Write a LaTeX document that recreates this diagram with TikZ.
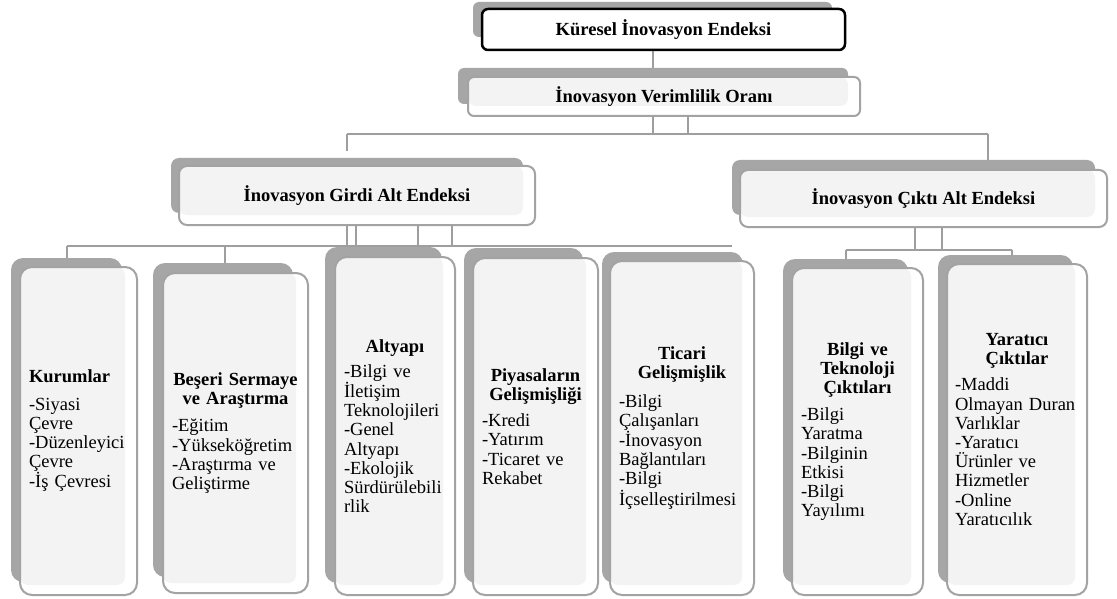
\documentclass[tikz,border=0pt]{standalone}
\usepackage{fontspec}
\setmainfont{Liberation Serif}
\usetikzlibrary{calc,backgrounds}
\definecolor{shade}{RGB}{166,166,166}
\definecolor{edge}{RGB}{163,163,163}
\definecolor{wire}{RGB}{158,158,158}
\definecolor{panel}{RGB}{243,243,243}
\pgfdeclarelayer{canvas}
\pgfsetlayers{canvas,background,main}

\begin{document}
\begin{tikzpicture}[x=1pt,y=-1pt,
  txt/.style={font=\fontsize{18.5}{19.2}\selectfont},
  backdrop/.style={fill=shade, rounded corners=#1},
  backdrop/.default=12pt,
  card/.style={txt, draw=edge, line width=2pt, fill=white, rounded corners=#1,
    inner sep=0pt, outer sep=0pt,
    path picture={\fill[panel, rounded corners=8pt]
      (path picture bounding box.north west) rectangle
      ($(path picture bounding box.south east)+(-12,-10)$);}},
  card/.default=12pt,
  topcard/.style={txt, font=\fontsize{18.5}{19.2}\selectfont\bfseries, draw=black,
    line width=2.5pt, fill=white, rounded corners=6pt, inner sep=0pt, outer sep=0pt},
  link/.style={draw=wire, line width=2.5pt}
]
\useasboundingbox (0,0) rectangle (1117,599);
\begin{pgfonlayer}{canvas}
  \fill[white] (0,0) rectangle (1117,599);
\end{pgfonlayer}

% ---- backdrops (offset grey plates) ----
\fill[backdrop=6pt] (473,2) rectangle (832,37);
\fill[backdrop=6pt] (458,68) rectangle (848,104);
\fill[backdrop=8pt] (171,158) rectangle (523,213);
\fill[backdrop=8pt] (732,160) rectangle (1095,215);
\fill[backdrop] (11,258) rectangle (122,582);
\fill[backdrop] (153,263) rectangle (293,577);
\fill[backdrop] (325,247) rectangle (442,583);
\fill[backdrop] (464,248) rectangle (583,583);
\fill[backdrop] (602,252) rectangle (743,583);
\fill[backdrop] (783,259) rectangle (908,583);
\fill[backdrop] (938,255) rectangle (1073,583);

% ---- upper levels ----
\node[topcard, minimum width=363pt, minimum height=41pt] (gii) at (663.5,29.5)
  {Küresel İnovasyon Endeksi};
\node[card=6pt, font=\fontsize{18.5}{19.2}\selectfont\bfseries,
  minimum width=392pt, minimum height=39pt] (ivo) at (664,96.5)
  {İnovasyon Verimlilik Oranı};
\node[card=8pt, font=\fontsize{18.5}{19.2}\selectfont\bfseries,
  minimum width=356pt, minimum height=59pt] (inp) at (357,195.5)
  {İnovasyon Girdi Alt Endeksi};
\node[card=8pt, font=\fontsize{18.5}{19.2}\selectfont\bfseries,
  minimum width=367pt, minimum height=57pt] (out) at (923.5,198.5)
  {İnovasyon Çıktı Alt Endeksi};

% ---- pillars ----
\node[card, minimum width=117pt, minimum height=328pt, text width=99pt, align=left]
  (kur) at (78.5,431)
  {{\centering\bfseries\mbox{Kurumlar\hspace{19pt}}\par}\vspace{8pt}%
   -Siyasi\\Çevre\\-Düzenleyici\\Çevre\\-İş Çevresi};
\node[card, minimum width=145pt, minimum height=320pt, text width=127pt, align=left]
  (bes) at (235.5,433)
  {{\centering\bfseries Beşeri Sermaye\\ve Araştırma\par}\vspace{8pt}%
   -Eğitim\\-Yükseköğretim\\-Araştırma ve\\Geliştirme};
\node[card, minimum width=120pt, minimum height=338pt, text width=102pt, align=left]
  (alt) at (395,426)
  {{\centering\bfseries Altyapı\par}\vspace{6pt}%
   -Bilgi ve\\İletişim\\Teknolojileri\\-Genel\\Altyapı\\-Ekolojik\\Sürdürülebili\\rlik};
\node[card, minimum width=125pt, minimum height=337pt, text width=107pt, align=left]
  (piy) at (535.5,426.5)
  {{\centering\bfseries Piyasaların\\Gelişmişliği\par}\vspace{7pt}%
   -Kredi\\-Yatırım\\-Ticaret ve\\Rekabet};
\node[card, minimum width=144pt, minimum height=334pt, text width=126pt, align=left]
  (tic) at (682,428)
  {{\centering\bfseries Ticari\\Gelişmişlik\par}\vspace{9pt}%
   -Bilgi\\Çalışanları\\-İnovasyon\\Bağlantıları\\-Bilgi\\İçselleştirilmesi};
\node[card, minimum width=131pt, minimum height=327pt, text width=113pt, align=left]
  (bil) at (857.5,431.5)
  {{\centering\bfseries Bilgi ve\\Teknoloji\\Çıktıları\par}\vspace{8pt}%
   -Bilgi\\Yaratma\\-Bilginin\\Etkisi\\-Bilgi\\Yayılımı};
\node[card, minimum width=140pt, minimum height=331pt, text width=124pt, align=left]
  (yar) at (1017,429.5)
  {{\centering\bfseries Yaratıcı\\Çıktılar\par}\vspace{7pt}%
   -Maddi\\Olmayan Duran\\Varlıklar\\-Yaratıcı\\Ürünler ve\\Hizmetler\\-Online\\Yaratıcılık};

% ---- junction points of the connector tree ----
\coordinate (a1) at (653,68);
\coordinate (b1) at (653,134);
\coordinate (b2) at (688,134);
\coordinate (bl) at (347,134);
\coordinate (br) at (988,134);
\coordinate (c1) at (347,246);
\coordinate (c2) at (356,246);
\coordinate (c3) at (418,246);
\coordinate (c4) at (452,246);
\coordinate (cl) at (67,246);
\coordinate (cr) at (732,246);
\coordinate (cb) at (225,246);
\coordinate (d1) at (915,250);
\coordinate (d2) at (942,250);
\coordinate (dl) at (846,250);
\coordinate (dr) at (1012,250);

\begin{pgfonlayer}{background}
  \draw[link] (gii.south -| a1) -- (a1);
  \draw[link] (ivo.south -| b1) -- (b1);
  \draw[link] (ivo.south -| b2) -- (b2);
  \draw[link] (bl) -- (br);
  \draw[link] (bl) -- ($(bl)+(0,17)$);
  \draw[link] (br) -- (out.north -| br);
  \foreach \p in {c1,c2,c3,c4} \draw[link] (inp.south -| \p) -- (\p);
  \draw[link] (cl) -- (cr);
  \draw[link] (cl) -- (kur.north -| cl);
  \draw[link] (cb) -- (bes.north -| cb);
  \foreach \p in {d1,d2} \draw[link] (out.south -| \p) -- (\p);
  \draw[link] (dl) -- (dr);
  \draw[link] (dl) -- (bil.north -| dl);
  \draw[link] (dr) -- (yar.north -| dr);
\end{pgfonlayer}
\end{tikzpicture}
\end{document}
